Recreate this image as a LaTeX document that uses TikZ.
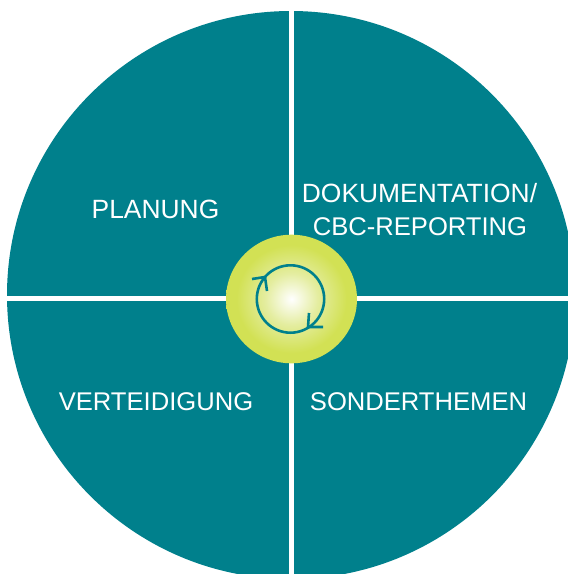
\documentclass[tikz,border=0pt]{standalone}
\usepackage{fontspec}
\setmainfont{Liberation Sans}
\definecolor{teal1}{HTML}{00808C}
\definecolor{lime1}{HTML}{D2E154}
\definecolor{lime2}{HTML}{E4EDA0}
\pgfdeclareradialshading{glow}{\pgfpoint{0bp}{0bp}}{color(0bp)=(white);color(10bp)=(lime2);color(21bp)=(lime1);color(50bp)=(lime1)}
\tikzset{
 lab/.style={text=white,font=\fontsize{25.6}{32}\selectfont,align=center,inner sep=0pt,anchor=base},
 labwide/.style={lab,font=\fontsize{26.4}{32}\selectfont},
 sep/.style={draw=white,line width=5pt},
 ringline/.style={draw=teal1,line width=2.6pt}
}
\begin{document}
\begin{tikzpicture}[x=1pt,y=-1pt]
\useasboundingbox (0,0) rectangle (568,574);
\begin{scope}
\clip (0,0) rectangle (568,574);
\fill[teal1] (291,295) circle[radius=284];
\coordinate (t) at (291,0);
\coordinate (b) at (291,574);
\coordinate (l) at (0,298);
\coordinate (r) at (568,298);
\draw[sep] (t) -- (b);
\draw[sep] (l) -- (r);
\end{scope}
\shade[shading=glow] (291.5,299) ellipse[x radius=65.5,y radius=64.3];
\draw[ringline] (290.5,299) circle[radius=33.7];
\coordinate (a1) at (265,277);
\coordinate (a2) at (252,279);
\coordinate (a3) at (267,291);
\coordinate (c1) at (308,327);
\coordinate (c2) at (309,313);
\coordinate (c3) at (323,327);
\draw[ringline] (a2) -- (a1) -- (a3);
\draw[ringline] (c2) -- (c1) -- (c3);
\node[labwide] (planung) at (155.5,218.5) {PLANUNG};
\node[labwide] (doku) at (419.5,202.7) {DOKUMENTATION/};
\node[lab] (doku2) at (420,235) {CBC-REPORTING};
\node[lab] (vert) at (156,410.5) {VERTEIDIGUNG};
\node[lab] (sonder) at (418.5,410.5) {SONDERTHEMEN};
\end{tikzpicture}
\end{document}
